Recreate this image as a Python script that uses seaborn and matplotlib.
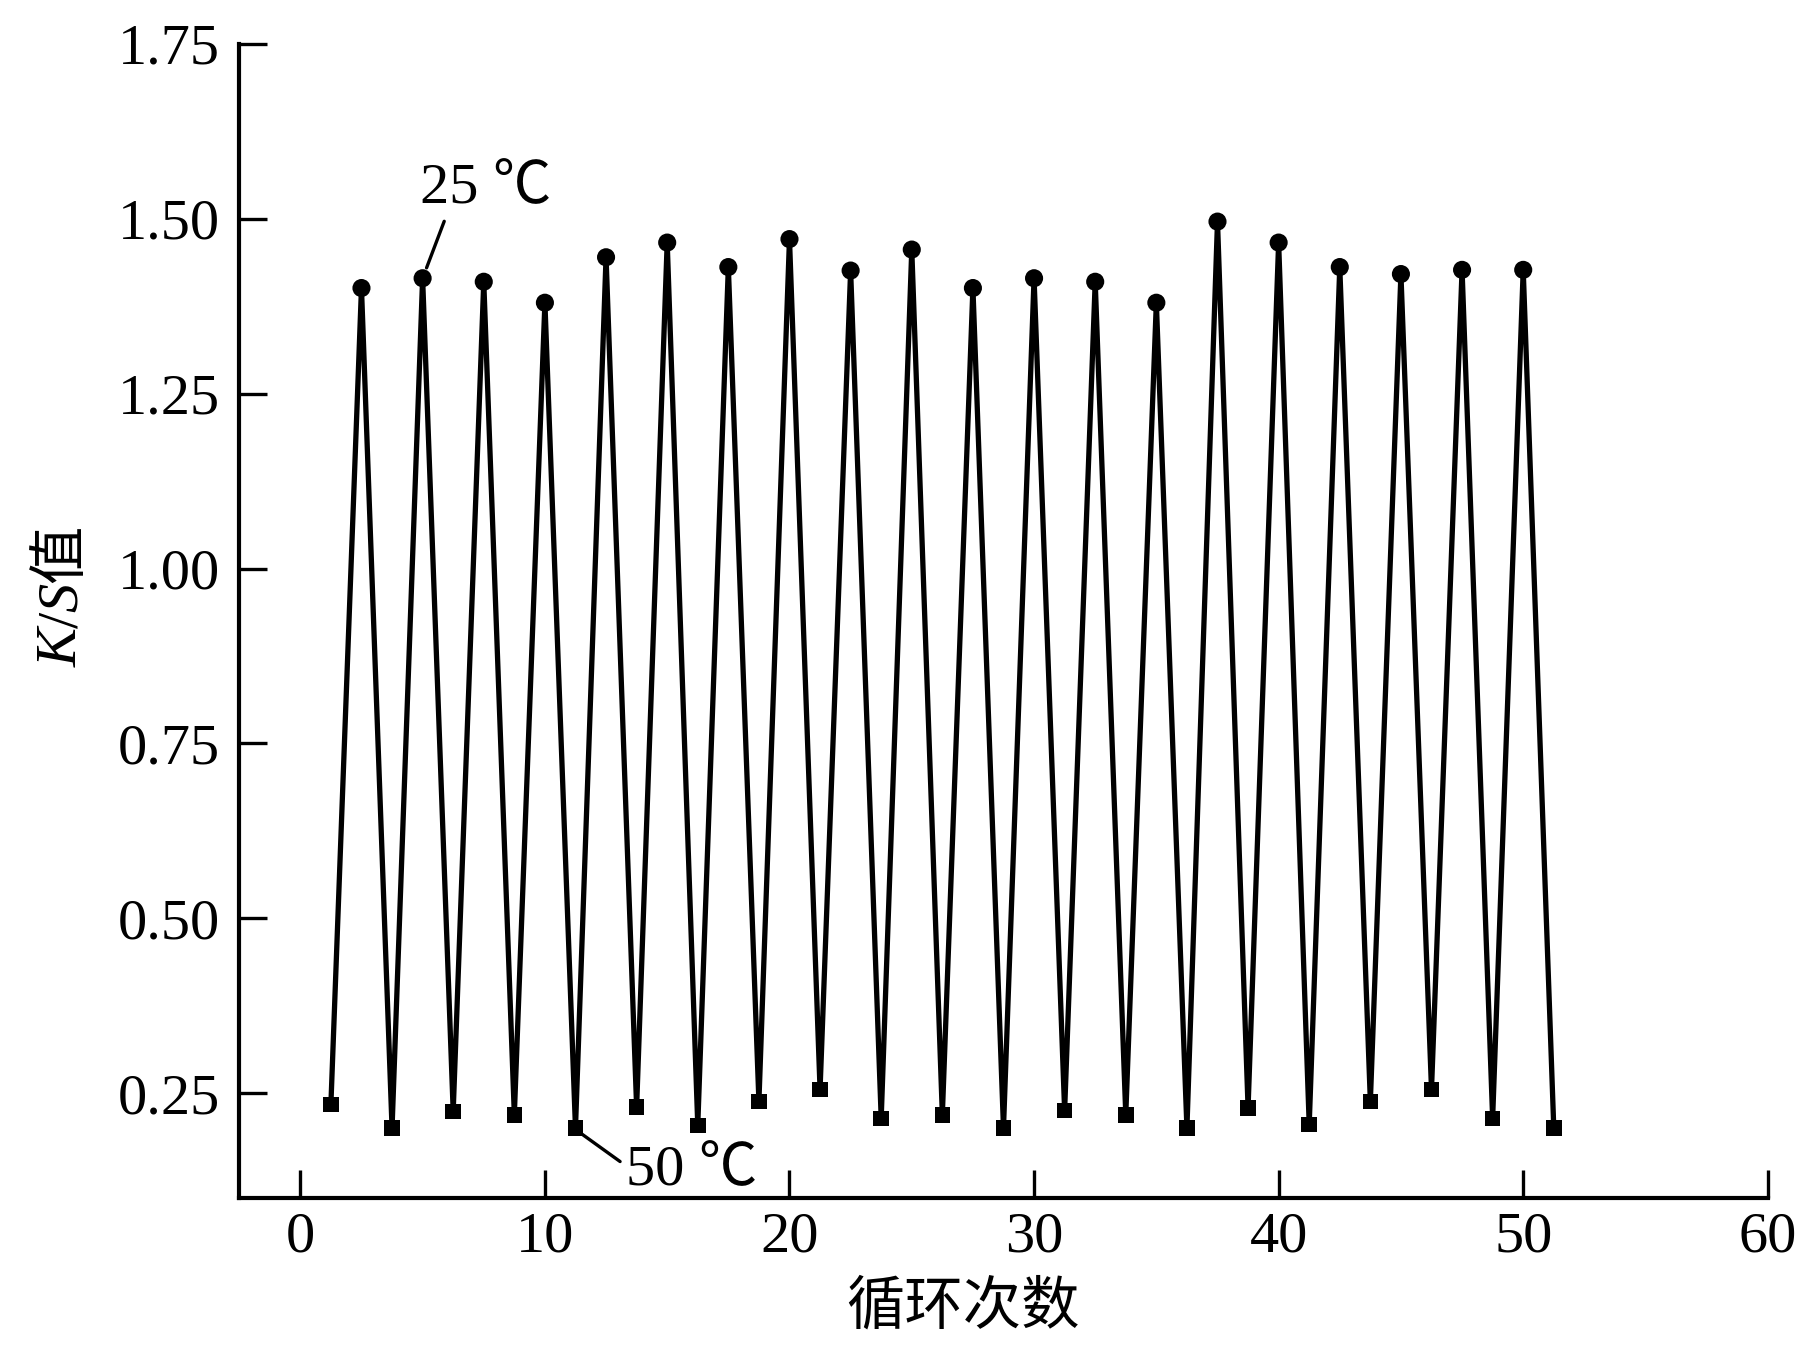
import matplotlib
matplotlib.use("Agg")
import matplotlib.pyplot as plt
import seaborn as sns
import pandas as pd

# cycle number and K/S value
cycle_50 = [1.25, 3.75, 6.25, 8.75, 11.25, 13.75, 16.25, 18.75, 21.25, 23.75,
            26.25, 28.75, 31.25, 33.75, 36.25, 38.75, 41.25, 43.75, 46.25, 48.75, 51.25]
ks_50 = [0.234, 0.200, 0.224, 0.219, 0.200, 0.230, 0.204, 0.238, 0.255, 0.214,
         0.219, 0.200, 0.225, 0.219, 0.200, 0.229, 0.205, 0.238, 0.255, 0.214, 0.200]

cycle_25 = [2.5, 5, 7.5, 10, 12.5, 15, 17.5, 20, 22.5, 25,
            27.5, 30, 32.5, 35, 37.5, 40, 42.5, 45, 47.5, 50]
ks_25 = [1.401, 1.415, 1.410, 1.380, 1.445, 1.466, 1.431, 1.471, 1.426, 1.456,
         1.401, 1.415, 1.410, 1.380, 1.496, 1.466, 1.431, 1.421, 1.427, 1.427]

x_ticks = [0, 10, 20, 30, 40, 50, 60]
y_ticks = [0.25, 0.50, 0.75, 1.00, 1.25, 1.50, 1.75]

df = pd.DataFrame({
    "cycle": cycle_50 + cycle_25,
    "ks": ks_50 + ks_25,
    "temp": ["50"] * len(cycle_50) + ["25"] * len(cycle_25),
}).sort_values("cycle")

sns.set_style("ticks")
fam = ["Liberation Serif", "Noto Sans CJK SC"]
plt.rcParams["font.family"] = fam
plt.rcParams["axes.linewidth"] = 3
for k in ["text.color", "axes.labelcolor", "xtick.color", "ytick.color", "axes.edgecolor"]:
    plt.rcParams[k] = "black"

fig = plt.figure(figsize=(18.12, 13.52), dpi=100)
ax = fig.add_axes([0.132, 0.1139, 0.8436, 0.8536])

sns.lineplot(data=df, x="cycle", y="ks", color="black", linewidth=3.8,
             sort=True, ax=ax, legend=False)
sns.scatterplot(data=df, x="cycle", y="ks", style="temp", size="temp",
                markers={"25": "o", "50": "s"}, sizes={"25": 170, "50": 125},
                color="black", linewidth=0, ax=ax, legend=False, zorder=3)

ax.set_xlim(-2.5, 60)
ax.set_ylim(0.1, 1.75)
ax.set_xticks(x_ticks)
ax.set_yticks(y_ticks)
ax.set_yticklabels([f"{v:.2f}" for v in y_ticks])
ax.tick_params(direction="in", length=20, width=2.4, labelsize=42)
ax.tick_params(axis="x", pad=10)
ax.tick_params(axis="y", pad=14)
sns.despine(ax=ax)

ax.set_xlabel("循环次数", fontsize=42)
ax.xaxis.set_label_coords(0.4735, -0.072)
ax.set_ylabel("")

# annotations
ax.annotate("25 ℃", xy=(5, 1.415), xytext=(4.9, 1.522),
            fontsize=42, ha="left", va="baseline",
            arrowprops=dict(arrowstyle="-", color="black", lw=2.4,
                            shrinkA=2, shrinkB=8, relpos=(0.2, 0)))
ax.annotate("50 ℃", xy=(11.25, 0.198), xytext=(13.3, 0.119),
            fontsize=42, ha="left", va="baseline",
            arrowprops=dict(arrowstyle="-", color="black", lw=2.4,
                            shrinkA=2, shrinkB=4, relpos=(0, 0.6)))

# y label built from pieces so K and S can be italic
renderer = fig.canvas.get_renderer()
x0 = 77 / 1812
y = (1352 - 667) / 1352
for s, st in [("K", "italic"), ("/", "normal"), ("S", "italic"), ("值", "normal")]:
    t = fig.text(x0, y, s, rotation=90, rotation_mode="anchor",
                 ha="left", va="baseline", fontsize=42, fontstyle=st,
                 family=fam)
    bb = t.get_window_extent(renderer)
    y = fig.transFigure.inverted().transform((0, bb.y1))[1]

fig.savefig("out.png", dpi=100)
